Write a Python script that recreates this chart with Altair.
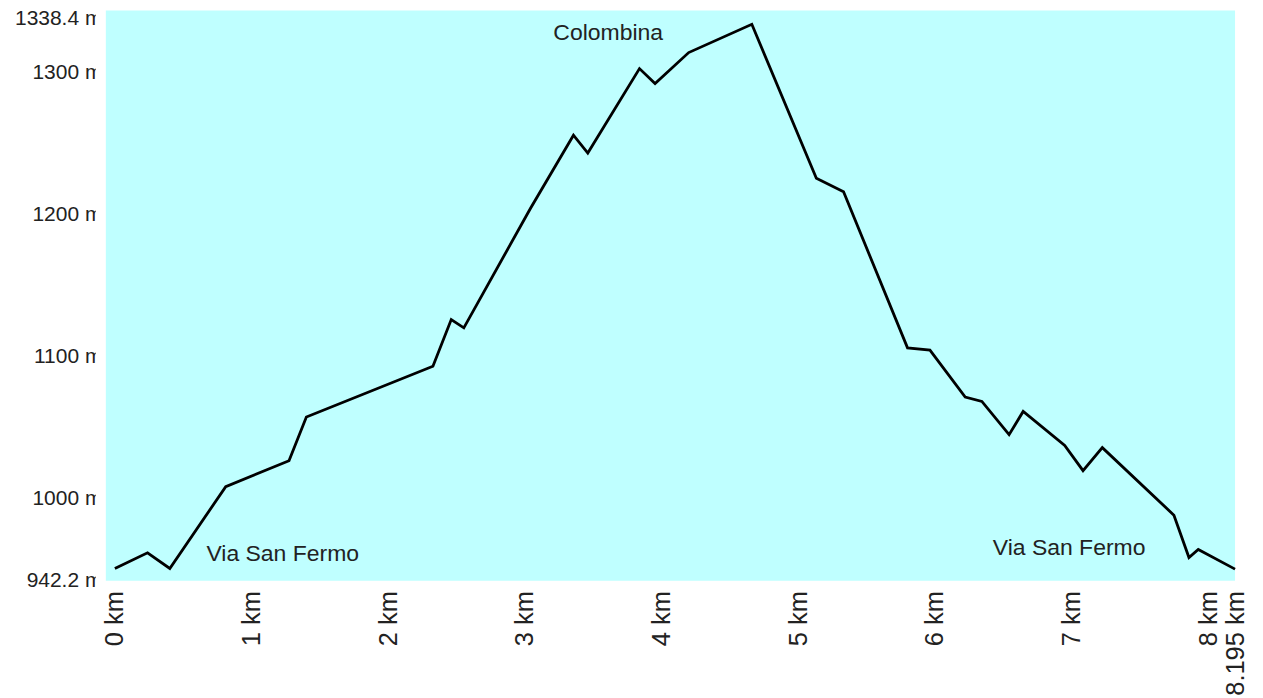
import altair as alt
import pandas as pd

# Elevation profile (distance in km, elevation in m)
dist_km = [0, 0.239, 0.402, 0.811, 1.274, 1.401, 2.327, 2.461, 2.553, 3.041,
           3.355, 3.460, 3.838, 3.952, 4.198, 4.660, 5.132, 5.331, 5.799, 5.963,
           6.221, 6.343, 6.542, 6.645, 6.949, 7.083, 7.224, 7.748, 7.858, 7.926, 8.195]
elev_m = [950.8, 961.8, 950.8, 1008.4, 1026.7, 1057.5, 1093.2, 1126.1, 1120.3, 1204.5,
          1256.0, 1243.4, 1302.9, 1292.4, 1314.2, 1334.1, 1225.6, 1216.1, 1106.2, 1104.6,
          1071.5, 1068.4, 1045.0, 1061.4, 1037.5, 1019.7, 1035.9, 988.3, 958.5, 964.1, 950.3]

x_ticks = [0, 1, 2, 3, 4, 5, 6, 7, 8, 8.195]
y_ticks = [942.2, 1000, 1100, 1200, 1300, 1338.4]

ann_text = ["Colombina", "Via San Fermo", "Via San Fermo"]
ann_km = [3.609, 1.228, 6.981]
ann_m = [1327.8, 961.3, 965.5]

W, H = 1131, 571
FONT = "Liberation Sans"

df = pd.DataFrame({"km": dist_km, "m": elev_m})
ann = pd.DataFrame({"label": ann_text, "km": ann_km, "m": ann_m})
one = pd.DataFrame({"a": [0]})

xs = alt.Scale(domain=[-0.066, 8.195], nice=False, zero=False)
ys = alt.Scale(domain=[942.2, 1343.8], nice=False, zero=False)

band = alt.Chart(one).mark_rect(color="white").encode(
    x=alt.value(-10), x2=alt.value(0), y=alt.value(-15), y2=alt.value(H + 15)
)
bg = alt.Chart(one).mark_rect(color="#bfffff").encode(
    x=alt.value(0), x2=alt.value(W), y=alt.value(0), y2=alt.value(H)
)

line = alt.Chart(df).mark_line(color="black", strokeWidth=2.8).encode(
    x=alt.X("km:Q", scale=xs, axis=alt.Axis(
        values=x_ticks, labelExpr="datum.value + ' km'", labelAngle=270,
        domain=False, ticks=False, grid=False, title=None, labelPadding=10,
        labelFontSize=25.5, labelFont=FONT, labelColor="#222222",
        labelFlush=False, labelOverlap=False, zindex=0)),
    y=alt.Y("m:Q", scale=ys, axis=alt.Axis(
        values=y_ticks, labelExpr="datum.value + ' m'",
        domain=False, ticks=False, grid=False, title=None, labelPadding=4,
        labelFontSize=21, labelFont=FONT, labelColor="#222222",
        labelFlush=False, labelOverlap=False, zindex=0)),
)

text = alt.Chart(ann).mark_text(
    font=FONT, fontSize=23, color="#222222", align="center", baseline="middle"
).encode(
    x=alt.X("km:Q", scale=xs),
    y=alt.Y("m:Q", scale=ys),
    text="label:N",
)

chart = alt.layer(band, bg, line, text).properties(
    width=W, height=H,
    autosize=alt.AutoSizeParams(type="none"),
    padding={"left": 98, "top": 2, "right": 20, "bottom": 114},
).configure_view(stroke=None)

chart.save("out.html", embed_options={"renderer": "svg", "actions": False})
